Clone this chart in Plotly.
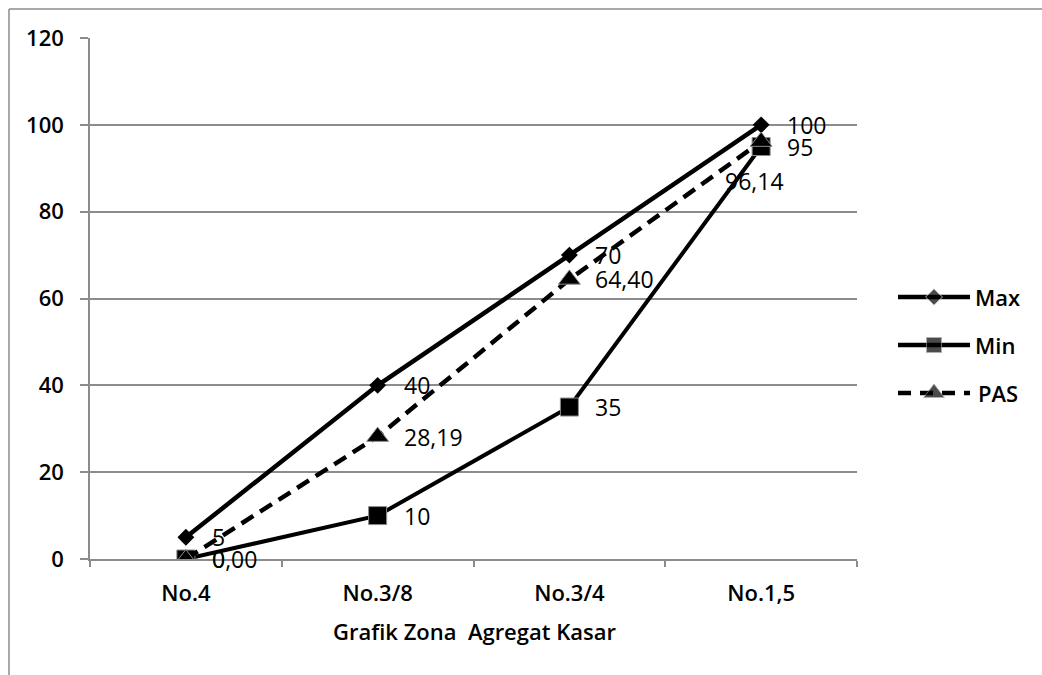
import plotly.graph_objects as go

# Sieve sizes and grading limits (percent passing)
categories = ["No.4", "No.3/8", "No.3/4", "No.1,5"]
max_values = [5, 40, 70, 100]
min_values = [0, 10, 35, 95]
pas_values = [0.00, 28.19, 64.40, 96.14]
y_ticks = [0, 20, 40, 60, 80, 100, 120]

W, H = 1042, 675
ML, MR, MT, MB = 90, 0, 38, 116
PW = W - ML - MR
PH = H - MT - MB
PLOT_W = 767
GRAY = "#8c8c8c"
FONT = "Open Sans, Noto Sans, sans-serif"


def px_x(px):
    return (px - ML) / PW


def px_y(py):
    return (H - MB - py) / PH


fig = go.Figure()

fig.add_trace(go.Scatter(
    x=categories, y=max_values, name="Max", mode="lines+markers",
    line=dict(color="black", width=4.5),
    marker=dict(symbol="diamond", size=13, color="black"),
    showlegend=False,
))
fig.add_trace(go.Scatter(
    x=categories, y=min_values, name="Min", mode="lines+markers",
    line=dict(color="black", width=4),
    marker=dict(symbol="square", size=18, color="black",
                line=dict(color=GRAY, width=1)),
    showlegend=False,
))
fig.add_trace(go.Scatter(
    x=categories, y=pas_values, name="PAS", mode="lines+markers",
    line=dict(color="black", width=4.5, dash="14px,8px"),
    marker=dict(symbol="triangle-up", size=19, color="black",
                line=dict(color=GRAY, width=1)),
    showlegend=False,
))

annotations = []
label_font = dict(family=FONT, size=23, color="black")
axis_font = dict(family=FONT, size=22, color="black", weight=600)


def add_label(cat, val, text, xshift=24, yshift=0, xanchor="left"):
    annotations.append(dict(
        x=cat, y=val, xref="x", yref="y", text=text, showarrow=False,
        xanchor=xanchor, yanchor="middle", xshift=xshift, yshift=yshift,
        font=label_font,
    ))


for c, v in zip(categories, max_values):
    add_label(c, v, str(v))
for c, v in zip(categories, min_values):
    add_label(c, v, str(v))
for i, (c, v) in enumerate(zip(categories, pas_values)):
    txt = f"{v:.2f}".replace(".", ",")
    if i == len(categories) - 1:
        add_label(c, v, txt, xshift=-7, yshift=-39, xanchor="center")
    else:
        add_label(c, v, txt)

# Axis title
annotations.append(dict(
    x=px_x(474), y=px_y(631), xref="paper", yref="paper",
    text="Grafik Zona\u00a0 Agregat Kasar", showarrow=False,
    xanchor="center", yanchor="middle",
    font=axis_font,
))

# Legend drawn on an overlay axis measured in pixels
legend_items = [
    ("Max", 297, dict(symbol="diamond", size=13, color="black"), dict(color="black", width=4.5)),
    ("Min", 345, dict(symbol="square", size=15, color="black", line=dict(color=GRAY, width=1)),
     dict(color="black", width=4.5)),
    ("PAS", 393, dict(symbol="triangle-up", size=18, color="black", line=dict(color=GRAY, width=1)),
     dict(color="black", width=4.5, dash="13px,9px")),
]
for name, ly, mk, ln in legend_items:
    mk2 = dict(mk)
    mk2["size"] = [0, mk["size"], 0]
    fig.add_trace(go.Scatter(
        x=[898, 934, 970], y=[ly, ly, ly], mode="lines+markers",
        line=ln, marker=mk2, xaxis="x2", yaxis="y2",
        showlegend=False, hoverinfo="skip",
    ))
    annotations.append(dict(
        x=973 if name != "PAS" else 976, y=ly, xref="x2", yref="y2", text=name,
        showarrow=False, xanchor="left", yanchor="middle",
        font=axis_font,
    ))

# Outer frame: top and left edges
shapes = [
    dict(type="line", xref="paper", yref="paper",
         x0=px_x(9), x1=px_x(1042), y0=px_y(9), y1=px_y(9),
         line=dict(color=GRAY, width=1.5)),
    dict(type="line", xref="paper", yref="paper",
         x0=px_x(9), x1=px_x(9), y0=px_y(9), y1=px_y(675),
         line=dict(color=GRAY, width=1.5)),
]

x2_lo = ML + PLOT_W + 6
fig.update_layout(
    width=W, height=H,
    margin=dict(l=ML, r=MR, t=MT, b=MB),
    paper_bgcolor="white", plot_bgcolor="white",
    showlegend=False,
    font=dict(family=FONT, color="black"),
    xaxis=dict(
        domain=[0, PLOT_W / PW], type="category", range=[-0.5, len(categories) - 0.5],
        showline=True, linecolor=GRAY, linewidth=1.5,
        ticks="outside", tickson="boundaries", ticklen=6, tickcolor=GRAY, tickwidth=1.5,
        showgrid=False, zeroline=False,
        tickfont=axis_font,
        ticklabelstandoff=14,
    ),
    yaxis=dict(
        range=[0, 120], tickvals=y_ticks,
        showline=True, linecolor=GRAY, linewidth=1.5,
        ticks="outside", ticklen=8, tickcolor=GRAY, tickwidth=1.5,
        showgrid=True, gridcolor=GRAY, gridwidth=1.5, zeroline=False,
        tickfont=axis_font,
        ticklabelstandoff=12,
    ),
    xaxis2=dict(domain=[(x2_lo - ML) / PW, 1], range=[x2_lo, W], visible=False,
                anchor="y2", fixedrange=True),
    yaxis2=dict(domain=[0, 1], range=[H - MB, MT], visible=False,
                anchor="x2", fixedrange=True),
    annotations=annotations,
    shapes=shapes,
)

fig.write_html("out.html")
